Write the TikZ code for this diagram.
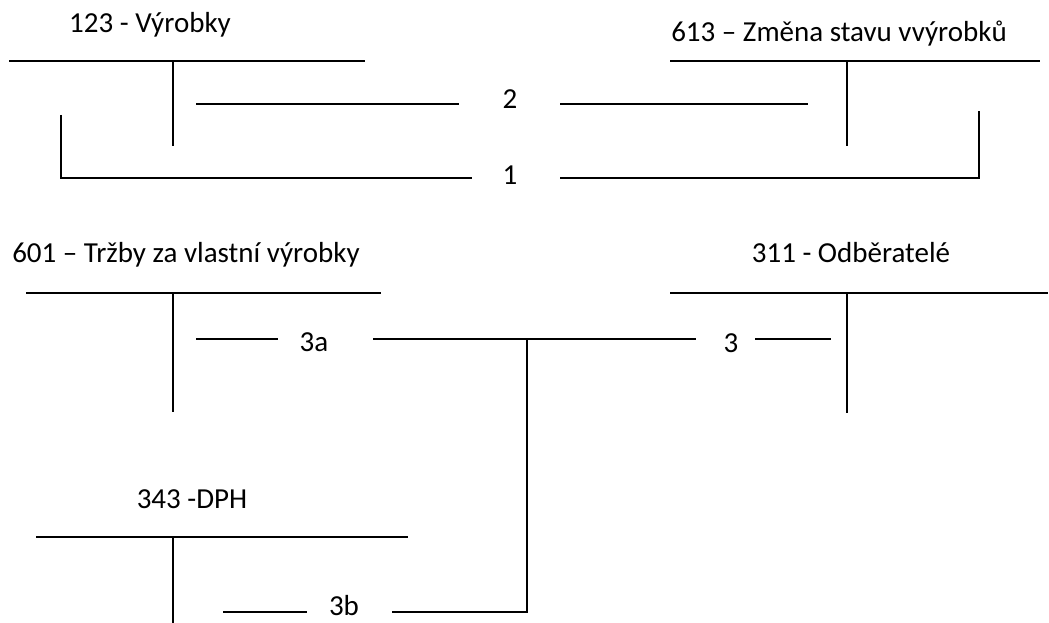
\documentclass[tikz,border=0pt]{standalone}
\usepackage{fontspec}
\setmainfont{Carlito}
\begin{document}
\begin{tikzpicture}[x=1pt,y=-1pt,
  acct/.style={line width=1.4pt},
  conn/.style={line width=1.4pt},
  lbl/.style={inner sep=0pt,anchor=base,font=\fontsize{29}{33}\selectfont},
  num/.style={inner sep=0pt,anchor=base,font=\fontsize{29}{33}\selectfont}]
\useasboundingbox (0,0) rectangle (1049,623);
% account titles
\node[lbl] (t123) at (150,33) {123 - Výrobky};
\node[lbl] (t613) at (839,42) {613 – Změna stavu vvýrobků};
\node[lbl] (t601) at (186,262) {601 – Tržby za vlastní výrobky};
\node[lbl] (t311) at (851,262) {311 - Odběratelé};
\node[lbl] (t343) at (192,508) {343 -DPH};
% T-accounts
\coordinate (a1l) at (9,61);   \coordinate (a1r) at (365,61);
\coordinate (a1t) at (173,61); \coordinate (a1b) at (173,146);
\coordinate (a2l) at (670,61); \coordinate (a2r) at (1040,61);
\coordinate (a2t) at (847,61); \coordinate (a2b) at (847,146);
\coordinate (a3l) at (26,293); \coordinate (a3r) at (381,293);
\coordinate (a3t) at (173,293); \coordinate (a3b) at (173,412);
\coordinate (a4l) at (670,293); \coordinate (a4r) at (1048,293);
\coordinate (a4t) at (847,293); \coordinate (a4b) at (847,413);
\coordinate (a5l) at (36,537); \coordinate (a5r) at (408,537);
\coordinate (a5t) at (173,537); \coordinate (a5b) at (173,623);
\foreach \i in {1,...,5} {
  \draw[acct] (a\i l) -- (a\i r);
  \draw[acct] (a\i t) -- (a\i b);
}
% entry labels
\node[num] (n2) at (510,109) {2};
\node[num] (n1) at (510,184) {1};
\node[num] (n3a) at (314,351) {3a};
\node[num] (n3) at (731,352) {3};
\node[num] (n3b) at (344,615) {3b};
% connector 2
\coordinate (c2a) at (196,104); \coordinate (c2b) at (459,104);
\coordinate (c2c) at (560,104); \coordinate (c2d) at (808,104);
\draw[conn] (c2a) -- (c2b);
\draw[conn] (c2c) -- (c2d);
% connector 1
\coordinate (c1a) at (61,115); \coordinate (c1b) at (61,178);
\coordinate (c1c) at (472,178); \coordinate (c1d) at (560,178);
\coordinate (c1e) at (979,178); \coordinate (c1f) at (979,111);
\draw[conn] (c1a) -- (c1b) -- (c1c);
\draw[conn] (c1d) -- (c1e) -- (c1f);
% connector 3 / 3a / 3b
\coordinate (c3a) at (196,339); \coordinate (c3b) at (278,339);
\coordinate (c3c) at (373,339); \coordinate (c3d) at (696,339);
\coordinate (c3e) at (755,339); \coordinate (c3f) at (831,339);
\coordinate (c3j) at (527,339); \coordinate (c3k) at (527,612);
\coordinate (c3g) at (392,612);
\coordinate (c3h) at (223,612); \coordinate (c3i) at (307,612);
\draw[conn] (c3a) -- (c3b);
\draw[conn] (c3c) -- (c3d);
\draw[conn] (c3e) -- (c3f);
\draw[conn] (c3j) -- (c3k) -- (c3g);
\draw[conn] (c3h) -- (c3i);
\end{tikzpicture}
\end{document}
